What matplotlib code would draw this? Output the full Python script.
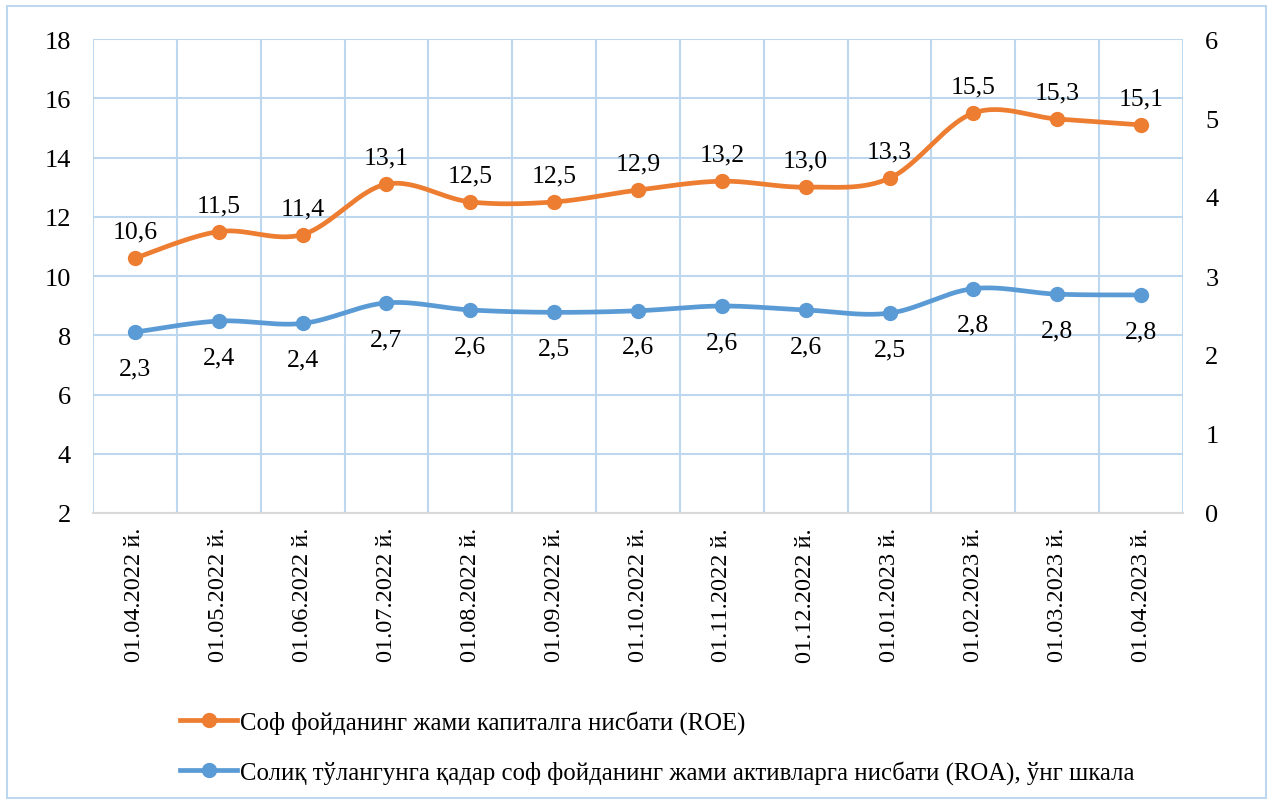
import numpy as np
import matplotlib
matplotlib.use("Agg")
import matplotlib.pyplot as plt
from matplotlib.patches import Rectangle
from matplotlib.lines import Line2D

plt.rcParams['font.family'] = ['Liberation Serif', 'DejaVu Serif']

categories = ["01.04.2022 й.", "01.05.2022 й.", "01.06.2022 й.", "01.07.2022 й.",
              "01.08.2022 й.", "01.09.2022 й.", "01.10.2022 й.", "01.11.2022 й.",
              "01.12.2022 й.", "01.01.2023 й.", "01.02.2023 й.", "01.03.2023 й.",
              "01.04.2023 й."]
roe = [10.6, 11.5, 11.4, 13.1, 12.5, 12.5, 12.9, 13.2, 13.0, 13.3, 15.5, 15.3, 15.1]
roa = [2.29, 2.43, 2.40, 2.66, 2.57, 2.54, 2.56, 2.62, 2.57, 2.53, 2.84, 2.77, 2.76]
roe_name = "Соф фойданинг жами капиталга нисбати (ROE)"
roa_name = "Солиқ тўлангунга қадар соф фойданинг жами активларга нисбати (ROA), ўнг шкала"

ORANGE = "#ED7D31"
BLUE = "#5B9BD5"
GRID = "#BDD7EE"


def catmull(x, y, n=30, tension=0.5):
    x = np.asarray(x, float)
    y = np.asarray(y, float)
    px = np.concatenate([[x[0]], x, [x[-1]]])
    py = np.concatenate([[y[0]], y, [y[-1]]])
    xs, ys = [], []
    for i in range(1, len(px) - 2):
        p0, p1, p2, p3 = (np.array([px[j], py[j]]) for j in (i - 1, i, i + 1, i + 2))
        c1 = p1 + (p2 - p0) * tension / 3
        c2 = p2 - (p3 - p1) * tension / 3
        t = np.linspace(0, 1, n)[:, None]
        pts = ((1 - t) ** 3) * p1 + 3 * ((1 - t) ** 2) * t * c1 + 3 * (1 - t) * t ** 2 * c2 + t ** 3 * p2
        xs.append(pts[:, 0])
        ys.append(pts[:, 1])
    return np.concatenate(xs), np.concatenate(ys)


W, H = 1270, 803
fig = plt.figure(figsize=(W / 100, H / 100), dpi=100)
fig.patches.append(Rectangle((7 / W, 4 / H), (1266 - 7) / W, (799 - 7) / H,
                             transform=fig.transFigure, fill=False,
                             edgecolor=GRID, linewidth=1.5))

ax = fig.add_axes([93 / W, 1 - 514 / H, (1183 - 93) / W, (514 - 40) / H])
ax2 = ax.twinx()

x = np.arange(len(categories))
ax.set_xlim(-0.5, len(categories) - 0.5)
ax.set_ylim(2, 18)
ax.set_yticks(np.arange(2, 19, 2))
ax2.set_ylim(0, 6)
ax2.set_yticks(np.arange(0, 7, 1))

ax.set_xticks(x)
ax.set_xticklabels(categories, rotation=90, fontsize=17.5)
ax.set_xticks(np.arange(-0.5, len(categories), 1), minor=True)
ax.tick_params(axis='x', which='both', length=0, pad=10)
ax.tick_params(axis='y', length=0, labelsize=19, pad=16)
ax2.tick_params(axis='y', length=0, labelsize=19, pad=16)

ax.grid(True, which='minor', axis='x', color=GRID, linewidth=1.5)
ax.grid(True, which='major', axis='y', color=GRID, linewidth=1.5)
ax.set_axisbelow(True)
for s in ['left', 'right', 'top']:
    ax.spines[s].set_visible(False)
    ax2.spines[s].set_visible(False)
ax.spines['bottom'].set_color('#D9D9D9')
ax.spines['bottom'].set_linewidth(1.5)
ax2.spines['bottom'].set_visible(False)

sx, sy = catmull(x, roe)
ax.plot(sx, sy, color=ORANGE, lw=3.4, solid_capstyle='round', zorder=3)
ax.plot(x, roe, 'o', color=ORANGE, ms=10, zorder=4)
for xi, v in zip(x, roe):
    ax.annotate(f"{v:.1f}".replace('.', ','), (xi, v), xytext=(0, 19),
                textcoords='offset points', ha='center', va='center', fontsize=18.5)

sx, sy = catmull(x, roa)
ax2.plot(sx, sy, color=BLUE, lw=3.4, solid_capstyle='round', zorder=3)
ax2.plot(x, roa, 'o', color=BLUE, ms=10, zorder=4)
for xi, v in zip(x, roa):
    ax2.annotate(f"{v:.1f}".replace('.', ','), (xi, v), xytext=(0, -26),
                 textcoords='offset points', ha='center', va='center', fontsize=18.5)

handles = [Line2D([], [], color=ORANGE, lw=3.4, marker='o', ms=10),
           Line2D([], [], color=BLUE, lw=3.4, marker='o', ms=10)]
fig.legend(handles, [roe_name, roa_name], loc='upper left',
           bbox_to_anchor=(168 / W, 1 - 699 / H), frameon=False, fontsize=17.8,
           handlelength=2.3, handletextpad=0.1, labelspacing=1.05, borderpad=0)

fig.savefig("out.png", dpi=100)
